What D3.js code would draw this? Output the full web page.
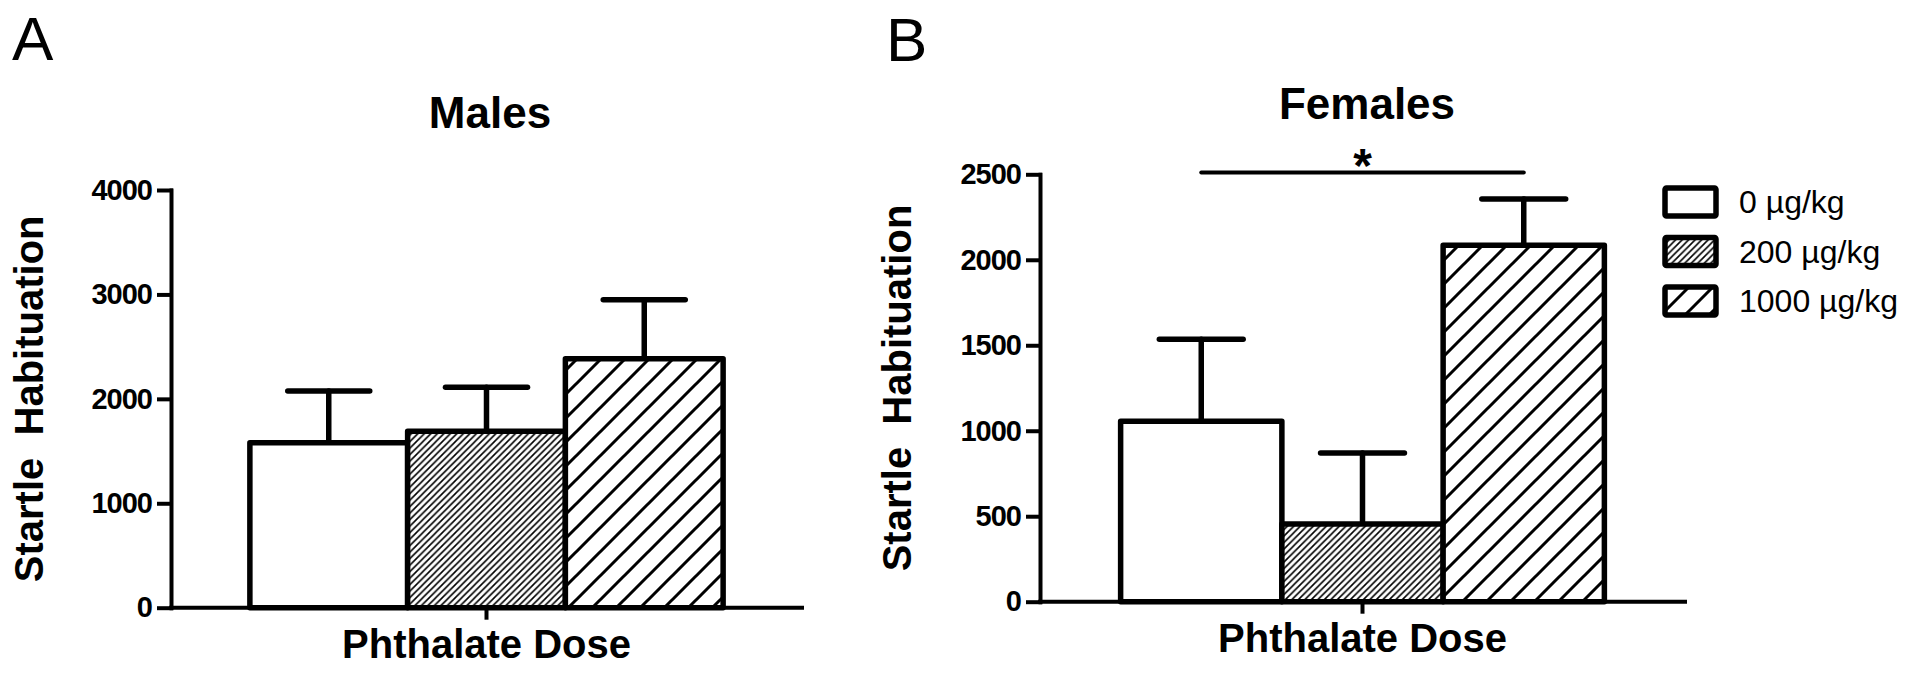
<!DOCTYPE html>
<html>
<head>
<meta charset="utf-8">
<script src="https://cdn.jsdelivr.net/npm/d3@7"></script>
<style>
  body { margin: 0; background: #fff; }
  text { font-family: "Liberation Sans", Arial, Helvetica, sans-serif; fill: #000; }
</style>
</head>
<body>
<svg id="chart"></svg>
<script>
// data
var doses = ['0 µg/kg', '200 µg/kg', '1000 µg/kg'];
var category = ['Phthalate Dose'];
var malesMean = [1580, 1690, 2385];
var malesSem = [495, 420, 565];
var femalesMean = [1055, 455, 2085];
var femalesSem = [480, 415, 270];
var malesTicks = [0, 1000, 2000, 3000, 4000];
var femalesTicks = [0, 500, 1000, 1500, 2000, 2500];
// significance bracket in females: 0 vs 1000
var femalesSig = [{ from: 0, to: 2, level: 2510, label: '*' }];

var width = 1920;
var height = 673;

var svg = d3.select('#chart')
  .attr('width', width)
  .attr('height', height);

svg.append('rect')
  .attr('width', width)
  .attr('height', height)
  .attr('fill', '#fff');

var defs = svg.append('defs');

function hatch(id, period, strokeWidth) {
  var p = defs.append('pattern')
    .attr('id', id)
    .attr('patternUnits', 'userSpaceOnUse')
    .attr('width', period)
    .attr('height', period);
  p.append('rect').attr('width', period).attr('height', period).attr('fill', '#fff');
  p.append('path')
    .attr('d', `M${-period / 2},${period / 2} l${period},${-period} M0,${period} l${period},${-period} M${period / 2},${period * 1.5} l${period},${-period}`)
    .attr('stroke', '#000')
    .attr('stroke-width', strokeWidth);
}
hatch('hatch-dense', 6.5, 1.6);
hatch('hatch-wide', 24, 3);

var fills = ['#fff', 'url(#hatch-dense)', 'url(#hatch-wide)'];

var panels = [
  { letter: 'A', title: 'Males', mean: malesMean, sem: malesSem, ticks: malesTicks, sig: [],
    left: 171, right: 802, top: 190, bottom: 607.7, letterX: 12, letterY: 60,
    titleX: 490, titleY: 128, ylabelX: 43 },
  { letter: 'B', title: 'Females', mean: femalesMean, sem: femalesSem, ticks: femalesTicks, sig: femalesSig,
    left: 1040, right: 1685, top: 174.3, bottom: 601.7, letterX: 886, letterY: 61,
    titleX: 1367, titleY: 119, ylabelX: 911 }
];

panels.forEach(function(p) {
  var g = svg.append('g');

  var y = d3.scaleLinear()
    .domain([0, d3.max(p.ticks)])
    .range([p.bottom, p.top]);

  var x0 = d3.scaleBand()
    .domain(category)
    .range([p.left, p.right])
    .paddingOuter(1 / 6);

  var x1 = d3.scaleBand()
    .domain(doses)
    .range([x0(category[0]), x0(category[0]) + x0.bandwidth()]);

  // panel letter + title
  g.append('text')
    .attr('x', p.letterX)
    .attr('y', p.letterY)
    .style('font-size', '62px')
    .text(p.letter);

  g.append('text')
    .attr('x', p.titleX)
    .attr('y', p.titleY)
    .attr('text-anchor', 'middle')
    .style('font-size', '44px')
    .style('font-weight', 'bold')
    .text(p.title);

  var rows = doses.map(function(d, i) {
    return { dose: d, mean: p.mean[i], sem: p.sem[i], fill: fills[i] };
  });

  // error bars (upper only)
  var err = g.append('g')
    .attr('stroke', '#000')
    .attr('stroke-width', 5.5)
    .attr('stroke-linecap', 'round');

  err.selectAll('.err-v')
    .data(rows)
    .enter()
    .append('line')
    .attr('x1', function(d) { return x1(d.dose) + x1.bandwidth() / 2; })
    .attr('x2', function(d) { return x1(d.dose) + x1.bandwidth() / 2; })
    .attr('y1', function(d) { return y(d.mean); })
    .attr('y2', function(d) { return y(d.mean + d.sem); });

  err.selectAll('.err-cap')
    .data(rows)
    .enter()
    .append('line')
    .attr('x1', function(d) { return x1(d.dose) + x1.bandwidth() * 0.24; })
    .attr('x2', function(d) { return x1(d.dose) + x1.bandwidth() * 0.76; })
    .attr('y1', function(d) { return y(d.mean + d.sem); })
    .attr('y2', function(d) { return y(d.mean + d.sem); });

  // bars
  g.selectAll('.bar')
    .data(rows)
    .enter()
    .append('rect')
    .attr('class', 'bar')
    .attr('x', function(d) { return x1(d.dose); })
    .attr('width', x1.bandwidth())
    .attr('y', function(d) { return y(d.mean); })
    .attr('height', function(d) { return y(0) - y(d.mean); })
    .attr('fill', function(d) { return d.fill; })
    .attr('stroke', '#000')
    .attr('stroke-width', 5.5)
    .attr('stroke-linejoin', 'round');

  // axes
  var yAxis = g.append('g')
    .attr('transform', `translate(${p.left},0)`)
    .call(d3.axisLeft(y).tickValues(p.ticks).tickFormat(d3.format('d'))
      .tickSize(12).tickSizeOuter(0).tickPadding(7));

  var xAxis = g.append('g')
    .attr('transform', `translate(0,${p.bottom})`)
    .call(d3.axisBottom(x0).tickSize(10).tickSizeOuter(0).tickPadding(12));

  [yAxis, xAxis].forEach(function(a) {
    a.selectAll('path, line')
      .attr('stroke', '#000')
      .attr('stroke-width', 4)
      .attr('stroke-linecap', 'square');
    a.attr('font-family', null).attr('font-size', null);
  });
  xAxis.select('.domain').attr('d', `M${p.left},0H${p.right}`);

  yAxis.selectAll('text')
    .style('font-size', '29px')
    .style('font-weight', 'bold')
    .style('letter-spacing', '-1px');

  xAxis.selectAll('text')
    .style('font-size', '40px')
    .style('font-weight', 'bold');

  // y axis title
  g.append('text')
    .attr('transform', `translate(${p.ylabelX},${(p.top + p.bottom) / 2}) rotate(-90)`)
    .attr('text-anchor', 'middle')
    .style('font-size', '40px')
    .style('font-weight', 'bold')
    .style('white-space', 'pre')
    .text('Startle  Habituation');

  // significance
  p.sig.forEach(function(s) {
    var xa = x1(doses[s.from]) + x1.bandwidth() / 2;
    var xb = x1(doses[s.to]) + x1.bandwidth() / 2;
    g.append('line')
      .attr('x1', xa).attr('x2', xb)
      .attr('y1', y(s.level)).attr('y2', y(s.level))
      .attr('stroke', '#000')
      .attr('stroke-width', 4)
      .attr('stroke-linecap', 'round');
    g.append('text')
      .attr('x', (xa + xb) / 2)
      .attr('y', y(s.level) + 9)
      .attr('text-anchor', 'middle')
      .style('font-size', '48px')
      .style('font-weight', 'bold')
      .text(s.label);
  });
});

// legend
var legend = svg.append('g')
  .attr('transform', 'translate(1665,188)');

var item = legend.selectAll('.item')
  .data(doses)
  .enter()
  .append('g')
  .attr('class', 'item')
  .attr('transform', function(d, i) { return `translate(0,${i * 49.5})`; });

item.append('rect')
  .attr('width', 51)
  .attr('height', 28)
  .attr('fill', function(d, i) { return fills[i]; })
  .attr('stroke', '#000')
  .attr('stroke-width', 5.5)
  .attr('rx', 1.5);

item.append('text')
  .attr('x', 74)
  .attr('y', 25)
  .style('font-size', '32px')
  .text(function(d) { return d; });
</script>
</body>
</html>
